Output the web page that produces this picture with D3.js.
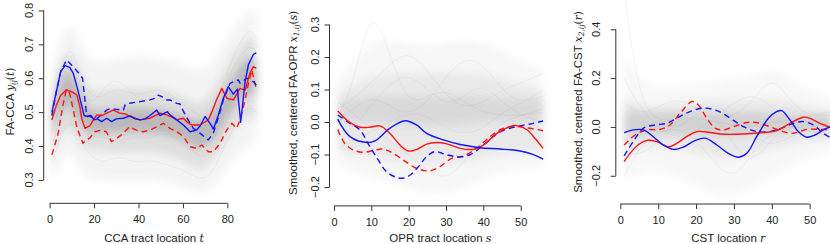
<!DOCTYPE html>
<html><head><meta charset="utf-8">
<script src="https://cdnjs.cloudflare.com/ajax/libs/d3/7.8.5/d3.min.js"></script>
<style>body{margin:0;background:#fff}svg{display:block}text{font-family:"Liberation Sans",Arial,sans-serif;fill:#222}</style>
</head><body><svg id="c" width="830" height="244"></svg>
<script>
// ---------- DATA ----------
// Panel 1: FA-CCA (t = 1..93)
const p1BlueSolid=[[1,0.50],[3,0.56],[5,0.62],[7,0.637],[9,0.632],[10.6,0.615],[12.5,0.57],[14.4,0.52],[15.5,0.49],[17,0.487],[18.5,0.49],[20,0.477],[21.5,0.48],[23.4,0.472],[25.7,0.482],[27.9,0.472],[30,0.48],[33.2,0.482],[36.2,0.489],[38.5,0.48],[40.7,0.477],[43,0.48],[45.2,0.49],[48.2,0.506],[49.7,0.49],[51.9,0.498],[53,0.501],[54.2,0.492],[57.2,0.477],[60.2,0.462],[63.2,0.442],[66.2,0.447],[67.7,0.459],[70,0.487],[72.2,0.467],[73.7,0.45],[75.9,0.49],[78.2,0.541],[80.4,0.575],[82.7,0.553],[84.5,0.568],[86,0.47],[88,0.59],[89.5,0.64],[91.7,0.67],[93,0.675]];
const p1BlueDash=[[1,0.49],[3,0.56],[5,0.62],[7.6,0.654],[9,0.645],[10.5,0.634],[12.5,0.62],[14.8,0.60],[16.4,0.506],[17,0.49],[19,0.485],[21,0.48],[23,0.49],[25.7,0.506],[27.2,0.51],[30,0.508],[33.2,0.506],[34,0.522],[35.4,0.526],[40.7,0.531],[45.2,0.536],[47.4,0.541],[48.9,0.55],[50.5,0.546],[52.7,0.536],[54.2,0.536],[57.2,0.526],[58.7,0.524],[61,0.492],[63,0.47],[64.7,0.452],[67.7,0.438],[70,0.425],[71.4,0.418],[73.7,0.438],[76.7,0.5],[78.2,0.536],[81.2,0.585],[83,0.59],[85,0.595],[85.7,0.585],[88.7,0.60],[91.7,0.59],[93,0.58]];
const p1RedSolid=[[1,0.477],[3,0.52],[5,0.55],[7.6,0.566],[10,0.56],[12.2,0.551],[13.5,0.52],[14.4,0.482],[15.9,0.452],[18.2,0.46],[19.5,0.475],[21.2,0.492],[23.5,0.49],[25.7,0.497],[28.6,0.506],[31.6,0.497],[34,0.495],[36.2,0.487],[38.5,0.482],[40.7,0.477],[43,0.48],[45.2,0.482],[47.5,0.49],[49.7,0.497],[52.7,0.492],[55,0.485],[57.2,0.477],[60.2,0.482],[62,0.47],[63.9,0.462],[67.7,0.462],[71.4,0.477],[73,0.5],[75.1,0.536],[77.5,0.57],[79.7,0.541],[82.7,0.536],[84,0.55],[85.7,0.57],[88,0.565],[90.2,0.615],[91.7,0.634],[93,0.63]];
const p1RedDash=[[1,0.374],[3.7,0.433],[6,0.521],[7.5,0.566],[9,0.556],[10.5,0.511],[12,0.462],[13.5,0.433],[15,0.408],[16.5,0.418],[18,0.423],[20.3,0.442],[23.3,0.447],[25.5,0.442],[27.8,0.413],[29.3,0.418],[32.3,0.433],[36,0.457],[39,0.447],[42,0.442],[45.2,0.447],[48.2,0.457],[51.2,0.467],[54.2,0.452],[57.2,0.443],[60.2,0.428],[63.2,0.398],[66.2,0.393],[68.5,0.403],[71.4,0.383],[73.7,0.383],[76.7,0.408],[79.7,0.447],[82,0.467],[84.2,0.452],[85.7,0.477],[88,0.536],[89.5,0.585],[91,0.624],[93,0.57]];
// spread of the subject curves (envelopes read at knots)
const p1Knots=[1,4,8,12,16,20,30,40,50,60,66,72,78,84,90,93];
const p1OuterLo=[0.30,0.33,0.40,0.35,0.31,0.30,0.30,0.30,0.30,0.28,0.26,0.26,0.32,0.37,0.40,0.42];
const p1OuterHi=[0.62,0.70,0.76,0.74,0.67,0.64,0.66,0.67,0.66,0.64,0.62,0.63,0.70,0.76,0.80,0.80];
const p1MidLo=[0.36,0.42,0.47,0.42,0.39,0.39,0.38,0.38,0.38,0.36,0.33,0.34,0.40,0.46,0.49,0.48];
const p1MidHi=[0.55,0.63,0.69,0.65,0.58,0.56,0.57,0.57,0.57,0.55,0.52,0.54,0.62,0.68,0.73,0.71];
const p1CoreLo=[0.42,0.49,0.54,0.48,0.44,0.44,0.44,0.44,0.44,0.42,0.39,0.40,0.46,0.53,0.56,0.55];
const p1CoreHi=[0.50,0.58,0.64,0.59,0.51,0.50,0.51,0.51,0.51,0.49,0.47,0.48,0.55,0.62,0.67,0.65];
const p1GrayT=[1,6,10,15,20,25,30,35,40,45,50,55,60,65,70,75,80,85,90,93];
const p1Gray=[
 [.46,.58,.60,.50,.47,.48,.50,.49,.47,.48,.50,.49,.46,.44,.42,.45,.55,.62,.66,.64],
 [.40,.52,.55,.46,.42,.43,.41,.42,.43,.42,.44,.43,.41,.38,.36,.40,.48,.55,.60,.58],
 [.52,.66,.70,.58,.54,.55,.57,.56,.55,.56,.57,.55,.52,.50,.48,.52,.62,.70,.75,.72],
 [.35,.45,.48,.40,.36,.35,.37,.36,.35,.36,.35,.34,.33,.31,.30,.34,.42,.48,.52,.50],
 [.48,.62,.65,.55,.52,.58,.60,.57,.54,.52,.53,.55,.50,.47,.45,.50,.60,.66,.70,.68],
 [.44,.55,.58,.52,.48,.46,.45,.47,.49,.46,.45,.47,.44,.40,.39,.43,.52,.58,.63,.62]];
const p1XTicks=[0,20,40,60,80];
const p1YTicks=[0.3,0.4,0.5,0.6,0.7,0.8];

// Panel 2: FA-OPR (s = 1..56)
const p2BlueSolid=[[1,0.009],[4.3,-0.045],[8.8,-0.063],[11,-0.058],[15,-0.019],[19,0.004],[22.1,-0.009],[24.8,-0.035],[29.3,-0.055],[33.8,-0.069],[39.1,-0.079],[44.5,-0.083],[49.8,-0.089],[53.4,-0.1],[56,-0.114]];
const p2BlueDash=[[1,0.0215],[4.3,-0.004],[7,-0.025],[9.6,-0.076],[11.9,-0.117],[14.1,-0.153],[17.7,-0.173],[20,-0.166],[22.2,-0.143],[24.8,-0.107],[27,-0.091],[30.2,-0.101],[33.8,-0.107],[36.5,-0.1],[40,-0.071],[44.5,-0.03],[49.8,-0.012],[53.4,-0.004],[56,0.003]];
const p2RedSolid=[[1,0.034],[4.3,-0.002],[7,-0.016],[9.6,-0.016],[12.3,-0.012],[15,-0.035],[17.7,-0.071],[19.9,-0.089],[22.2,-0.084],[24.8,-0.068],[27.5,-0.063],[30.2,-0.067],[33.8,-0.081],[37.3,-0.084],[40,-0.071],[43.6,-0.035],[47.1,-0.014],[48.9,-0.011],[51.6,-0.023],[53.8,-0.05],[56,-0.081]];
const p2RedDash=[[1,-0.023],[2.9,-0.066],[5.2,-0.086],[7.8,-0.093],[10.5,-0.088],[12.8,-0.083],[15,-0.091],[18.6,-0.117],[22.2,-0.143],[25.7,-0.15],[28.4,-0.137],[31.5,-0.112],[34.6,-0.105],[38.2,-0.081],[41.8,-0.045],[45.4,-0.019],[48.9,-0.014],[52.5,-0.019],[56,-0.027]];
const p2Knots=[1,5,10,15,20,25,30,35,40,45,50,56];
const p2OuterLo=[-0.13,-0.15,-0.17,-0.18,-0.20,-0.22,-0.22,-0.20,-0.17,-0.15,-0.14,-0.14];
const p2OuterHi=[0.13,0.18,0.25,0.25,0.24,0.23,0.24,0.25,0.24,0.22,0.18,0.16];
const p2MidLo=[-0.09,-0.10,-0.11,-0.12,-0.12,-0.13,-0.13,-0.12,-0.11,-0.10,-0.09,-0.09];
const p2MidHi=[0.09,0.11,0.14,0.15,0.15,0.15,0.15,0.15,0.15,0.13,0.11,0.10];
const p2CoreLo=[0.0,0.0,0.0,-0.01,-0.01,-0.01,-0.01,-0.01,0.0,0.0,0.0,0.0];
const p2CoreHi=[0.06,0.07,0.08,0.08,0.08,0.08,0.08,0.08,0.08,0.07,0.07,0.07];
const p2Gray=[
 [0.02,0.10,0.38,0.20,0.05,0.08,0.10,0.06,0.03,0.02,0.02,0.03],
 [-0.05,-0.02,0.05,0.12,0.15,0.10,0.05,0.08,0.12,0.06,0.02,0.0],
 [0.06,0.03,-0.02,-0.06,-0.10,-0.15,-0.18,-0.12,-0.05,0.0,0.02,0.04],
 [0.0,0.04,0.08,0.05,0.02,0.06,0.14,0.20,0.18,0.10,0.05,0.10],
 [-0.08,-0.06,-0.03,0.0,0.03,0.02,-0.02,-0.04,-0.02,0.03,0.06,0.08],
 [0.04,0.07,0.12,0.18,0.22,0.16,0.08,0.04,0.06,0.10,0.12,0.15]];
const p2XTicks=[0,10,20,30,40,50];
const p2YTicks=[-0.2,-0.1,0.0,0.1,0.2,0.3];

// Panel 3: FA-CST (r = 1..56)
const p3BlueSolid=[[1,-0.023],[3.4,-0.012],[6.1,-0.012],[8.7,-0.04],[11.4,-0.074],[14,-0.092],[16.6,-0.083],[19.7,-0.056],[22.4,-0.046],[25.5,-0.074],[28.5,-0.108],[31.2,-0.124],[33.4,-0.108],[36,-0.04],[39.1,0.036],[41.3,0.063],[42.6,0.067],[44.8,0.029],[47,-0.019],[49.2,-0.042],[51.4,-0.033],[53.6,-0.012],[56,0.003]];
const p3BlueDash=[[1,-0.119],[3.4,-0.06],[6.1,-0.005],[9.2,0.008],[12.3,0.015],[14.9,0.036],[18.4,0.063],[21.9,0.077],[25.5,0.067],[29,0.036],[32.5,0.001],[36,-0.019],[39.5,-0.019],[42.6,-0.005],[45.7,0.015],[48.3,0.022],[51,0.008],[53.6,-0.026],[56,-0.048]];
const p3RedSolid=[[1,-0.142],[3,-0.1],[5,-0.07],[7,-0.055],[9.6,-0.06],[12.7,-0.081],[14.9,-0.067],[17.5,-0.04],[20.2,-0.019],[23.7,-0.023],[27.2,-0.03],[32.5,-0.029],[37.8,-0.023],[41.3,-0.015],[44.8,0.015],[48.3,0.04],[50,0.036],[52.7,0.015],[56,-0.003]];
const p3RedDash=[[1,-0.074],[3.9,-0.033],[7,-0.012],[10.5,-0.01],[13.1,0.008],[15.8,0.056],[18.9,0.104],[20.6,0.09],[22.8,0.036],[25,-0.005],[27.2,-0.012],[29.8,0.001],[33.4,0.018],[36,0.018],[39.5,0.001],[43,-0.019],[45.7,-0.026],[49.2,-0.01],[52.7,-0.01],[56,-0.012]];
const p3Knots=[1,5,10,15,20,25,30,35,40,45,50,56];
const p3OuterLo=[-0.22,-0.18,-0.18,-0.20,-0.24,-0.28,-0.28,-0.25,-0.20,-0.16,-0.12,-0.10];
const p3OuterHi=[0.30,0.18,0.16,0.16,0.18,0.18,0.20,0.20,0.24,0.20,0.14,0.12];
const p3MidLo=[-0.12,-0.09,-0.08,-0.09,-0.10,-0.13,-0.13,-0.11,-0.09,-0.07,-0.05,-0.05];
const p3MidHi=[0.12,0.09,0.08,0.09,0.10,0.11,0.11,0.11,0.12,0.10,0.08,0.07];
const p3CoreLo=[-0.04,-0.04,-0.03,-0.03,-0.03,-0.04,-0.04,-0.03,-0.03,-0.02,-0.02,-0.02];
const p3CoreHi=[0.07,0.06,0.06,0.06,0.06,0.06,0.06,0.06,0.06,0.05,0.05,0.05];
const p3Gray=[
 [0.55,0.10,0.02,0.03,0.04,0.02,0.01,0.0,0.02,0.03,0.02,0.03],
 [-0.20,-0.08,-0.02,0.0,-0.05,-0.15,-0.22,-0.10,-0.02,0.0,0.01,0.0],
 [0.10,0.05,0.08,0.12,0.08,0.02,0.05,0.10,0.22,0.10,0.04,0.05],
 [-0.06,-0.02,0.04,-0.02,0.06,0.10,0.04,-0.04,-0.08,-0.04,0.0,0.02],
 [0.20,0.08,0.0,-0.05,-0.02,0.04,0.10,0.14,0.08,0.02,0.05,0.06],
 [-0.10,-0.12,-0.06,0.02,0.10,0.05,-0.08,-0.15,-0.05,0.02,-0.02,-0.04]];
const p3XTicks=[0,10,20,30,40,50];
const p3YTicks=[-0.2,0.0,0.2,0.4];

// ---------- DRAW ----------
const svg=d3.select("#c");
const BLUE="#1414ff", RED="#ff1414";
const panels=[
 {id:1,xd:[-2.68,96.68],xr:[43.7,264.4],yd:[0.231,0.85],yr:[203.3,-6.5],smooth:false,
  blueS:p1BlueSolid,blueD:p1BlueDash,redS:p1RedSolid,redD:p1RedDash,alphas:[0.045,0.085,0.17],
  knots:p1Knots,bands:[[p1OuterLo,p1OuterHi],[p1MidLo,p1MidHi],[p1CoreLo,p1CoreHi]],
  grayX:p1GrayT,gray:p1Gray,xt:p1XTicks,yt:p1YTicks,
  ytx:29,ttx:10,xlab:["CCA tract location ","t"],ylab:["FA-CCA ","y","ij","t"]},
 {id:2,xd:[-1.2,58.2],xr:[329.5,551.3],yd:[-0.258,0.4],yr:[205.9,-8],smooth:true,
  blueS:p2BlueSolid,blueD:p2BlueDash,redS:p2RedSolid,redD:p2RedDash,alphas:[0.035,0.055,0.07],
  knots:p2Knots,bands:[[p2OuterLo,p2OuterHi],[p2MidLo,p2MidHi],[p2CoreLo,p2CoreHi]],
  grayX:p2Knots,gray:p2Gray,xt:p2XTicks,yt:p2YTicks,
  ytx:315,ttx:293,xlab:["OPR tract location ","s"],ylab:["Smoothed, centered FA-OPR ","x","1,ij","s"]},
 {id:3,xd:[-1.2,58.2],xr:[615.8,840.7],yd:[-0.3156,0.52],yr:[204,0],smooth:true,
  blueS:p3BlueSolid,blueD:p3BlueDash,redS:p3RedSolid,redD:p3RedDash,alphas:[0.03,0.06,0.1],
  knots:p3Knots,bands:[[p3OuterLo,p3OuterHi],[p3MidLo,p3MidHi],[p3CoreLo,p3CoreHi]],
  grayX:p3Knots,gray:p3Gray,xt:p3XTicks,yt:p3YTicks,
  ytx:596,ttx:578,xlab:["CST location ","r"],ylab:["Smoothed, centered FA-CST ","x","2,ij","r"]}
];
const fmt=d3.format(".1f");
const defs=svg.append("defs");
defs.append("filter").attr("id","soft").attr("x","-10%").attr("y","-20%").attr("width","120%").attr("height","140%")
  .append("feGaussianBlur").attr("stdDeviation",4);
panels.forEach(p=>{
 const x=d3.scaleLinear().domain(p.xd).range(p.xr);
 const y=d3.scaleLinear().domain(p.yd).range(p.yr);
 const top=Math.max(0,p.yr[1]);
 defs.append("clipPath").attr("id","clip"+p.id).append("rect")
   .attr("x",p.xr[0]).attr("y",top).attr("width",p.xr[1]-p.xr[0]).attr("height",p.yr[0]-top);
 const g=svg.append("g").attr("clip-path",`url(#clip${p.id})`);
 const gb=g.append("g").attr("filter","url(#soft)");
 p.bands.forEach((b,i)=>{
   const pts=p.knots.map((k,j)=>[k,b[0][j],b[1][j]]);
   gb.append("path").datum(pts)
    .attr("d",d3.area().x(d=>x(d[0])).y0(d=>y(d[1])).y1(d=>y(d[2])).curve(d3.curveBasis))
    .attr("fill","#000").attr("fill-opacity",p.alphas[i]);
 });
 p.gray.forEach(row=>{
   const pts=p.grayX.map((k,j)=>[k,row[j]]);
   g.append("path").datum(pts)
    .attr("d",d3.line().x(d=>x(d[0])).y(d=>y(d[1])).curve(d3.curveBasis))
    .attr("fill","none").attr("stroke","#999").attr("stroke-opacity",0.18).attr("stroke-width",0.6);
 });
 const ln=d3.line().x(d=>x(d[0])).y(d=>y(d[1])).curve(p.smooth?d3.curveCatmullRom.alpha(0.5):d3.curveLinear);
 [[p.redD,RED,true],[p.blueD,BLUE,true],[p.redS,RED,false],[p.blueS,BLUE,false]].forEach(([data,col,dash])=>{
   g.append("path").datum(data).attr("d",ln).attr("fill","none").attr("stroke",col)
    .attr("stroke-width",1.4).attr("stroke-linejoin","round")
    .attr("stroke-dasharray",dash?"6,4":null);
 });
 const xa=svg.append("g").attr("transform",`translate(0,${p.yr[0]})`)
   .call(d3.axisBottom(x).tickValues(p.xt).tickSize(5).tickSizeOuter(0).tickFormat(d3.format("d")));
 xa.select(".domain").attr("d",`M${x(p.xt[0])},0H${x(p.xt[p.xt.length-1])}`).attr("stroke","#333");
 xa.selectAll(".tick line").attr("stroke","#333");
 xa.selectAll(".tick text").attr("font-size",11).attr("y",12).attr("fill","#222")
   .style("font-family",'"Liberation Sans",Arial,sans-serif');
 const ya=svg.append("g").attr("transform",`translate(${p.xr[0]},0)`)
   .call(d3.axisLeft(y).tickValues(p.yt).tickSize(5).tickSizeOuter(0));
 ya.select(".domain").attr("d",`M0,${y(p.yt[0])}V${y(p.yt[p.yt.length-1])}`).attr("stroke","#333");
 ya.selectAll(".tick line").attr("stroke","#333");
 ya.selectAll(".tick text").remove();
 p.yt.forEach(v=>{
   svg.append("text").attr("transform",`translate(${p.ytx},${y(v)}) rotate(-90)`)
    .attr("text-anchor","middle").attr("dominant-baseline","central").attr("font-size",11)
    .text(fmt(v));
 });
 const cx=(x(p.xd[0])+x(p.xd[1]))/2;
 const xl=svg.append("text").attr("x",cx).attr("y",242).attr("text-anchor","middle").attr("font-size",11.5);
 xl.append("tspan").text(p.xlab[0]);
 xl.append("tspan").attr("font-family","DejaVu Serif").attr("font-style","italic").attr("font-size",11).text(p.xlab[1]);
 const cy=(p.yr[0]+Math.max(0,p.yr[1]))/2;
 const yl=svg.append("text").attr("transform",`translate(${p.ttx},${cy}) rotate(-90)`)
   .attr("text-anchor","middle").attr("dominant-baseline","central").attr("font-size",11.5);
 yl.append("tspan").text(p.ylab[0]);
 yl.append("tspan").attr("font-family","DejaVu Serif").attr("font-style","italic").attr("font-size",10.5).text(p.ylab[1]);
 yl.append("tspan").attr("font-family","DejaVu Serif").attr("font-style","italic").attr("font-size",7.5).attr("dy",2.5).text(p.ylab[2]);
 yl.append("tspan").attr("font-family","DejaVu Serif").attr("font-size",10.5).attr("dy",-2.5).text("(");
 yl.append("tspan").attr("font-family","DejaVu Serif").attr("font-style","italic").attr("font-size",10.5).text(p.ylab[3]);
 yl.append("tspan").attr("font-family","DejaVu Serif").attr("font-size",10.5).text(")");
});
</script></body></html>
